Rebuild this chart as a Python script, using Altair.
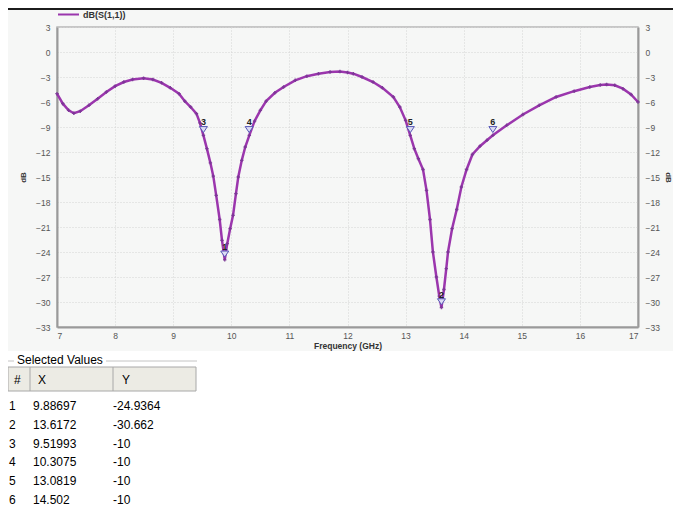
import altair as alt
import pandas as pd

# ---- data ----
freq_ghz = [7.00, 7.10, 7.20, 7.29, 7.40, 7.55, 7.70, 7.85, 8.00, 8.15,
            8.30, 8.49, 8.65, 8.80, 8.95, 9.10, 9.20, 9.30, 9.40, 9.46,
            9.52, 9.58, 9.64, 9.69, 9.74, 9.80, 9.84, 9.887, 9.93, 9.98,
            10.03, 10.08, 10.12, 10.18, 10.24, 10.31, 10.40, 10.50, 10.60, 10.75,
            10.90, 11.10, 11.30, 11.50, 11.70, 11.87, 12.00, 12.10, 12.25, 12.44,
            12.60, 12.79, 12.90, 13.00, 13.08, 13.15, 13.22, 13.30, 13.36, 13.42,
            13.47, 13.53, 13.58, 13.617, 13.66, 13.70, 13.73, 13.80, 13.88, 13.96,
            14.05, 14.15, 14.28, 14.40, 14.502, 14.74, 15.02, 15.30, 15.59, 15.90,
            16.17, 16.35, 16.46, 16.60, 16.74, 16.88, 17.00]
s11_db = [-5.0, -6.2, -7.0, -7.35, -7.1, -6.4, -5.6, -4.8, -4.1, -3.6,
          -3.3, -3.15, -3.3, -3.7, -4.3, -5.0, -5.9, -6.6, -7.4, -8.5,
          -10.0, -11.6, -13.3, -14.9, -17.2, -20.1, -22.6, -24.94, -23.0, -21.2,
          -19.6, -17.0, -15.0, -13.0, -11.4, -10.0, -8.3, -7.0, -5.9, -4.9,
          -4.2, -3.4, -2.9, -2.6, -2.4, -2.35, -2.45, -2.6, -3.0, -3.6,
          -4.3, -5.4, -6.6, -8.2, -10.0, -11.6, -12.8, -14.1, -16.6, -20.1,
          -24.0, -27.0, -29.3, -30.66, -28.5, -26.0, -24.0, -21.2, -18.9, -16.2,
          -14.1, -12.3, -11.3, -10.6, -10.0, -8.8, -7.5, -6.4, -5.4, -4.7,
          -4.2, -3.95, -3.9, -4.0, -4.4, -5.1, -6.0]
series_name = "dB(S(1,1))"

sel_id = ["1", "2", "3", "4", "5", "6"]
sel_x = ["9.88697", "13.6172", "9.51993", "10.3075", "13.0819", "14.502"]
sel_y = ["-24.9364", "-30.662", "-10", "-10", "-10", "-10"]

x_ticks = list(range(7, 18))
y_ticks = list(range(-33, 4, 3))

# ---- tables ----
curve = pd.DataFrame({"f": freq_ghz, "db": s11_db, "series": series_name})
marks = pd.DataFrame({"id": sel_id,
                      "mx": [float(v) for v in sel_x],
                      "my": [float(v) for v in sel_y]})
table = pd.DataFrame({"row": [int(v) for v in sel_id], "id": sel_id,
                      "xs": sel_x, "ys": sel_y})
one = pd.DataFrame({"k": [0]})

PURPLE = "#9b36ad"
FONT = "Liberation Sans"
PANEL = "#f6f7f6"

xs = alt.Scale(domain=[7, 17], nice=False, zero=False)
ys = alt.Scale(domain=[-33, 3], nice=False, zero=False)

lab = dict(labelFont=FONT, labelFontSize=8.5, labelColor="#555555",
           titleFont=FONT, titleFontWeight="bold", titleColor="#333333")

x_axis = alt.Axis(values=x_ticks, title="Frequency (GHz)", grid=True,
                  gridColor="#d4d4d4", gridDash=[1, 2], ticks=False,
                  labelPadding=4, titlePadding=2, titleFontSize=8.5,
                  domainColor="#9a9a9a", domainWidth=2, **lab)
left_axis = alt.Axis(orient="left", values=y_ticks, title="dB", grid=True,
                     gridColor="#d4d4d4", gridDash=[1, 2], ticks=False,
                     labelPadding=7, titlePadding=8, titleFontSize=8,
                     domainColor="#9a9a9a", domainWidth=2, **lab)
right_axis = alt.Axis(orient="right", values=y_ticks, title="dB", grid=False,
                      ticks=False, labelPadding=7, titlePadding=4,
                      titleFontSize=8, domainColor="#9a9a9a", domainWidth=2,
                      **lab)

X = alt.X("f:Q", scale=xs, axis=x_axis)

# decorations: white area under the plot panel, dark top edge
lower = alt.Chart(one).mark_rect(color="white").encode(
    x=alt.value(-49), x2=alt.value(616), y=alt.value(324), y2=alt.value(479))
topbar = alt.Chart(one).mark_rect(color="#1c1c1c").encode(
    x=alt.value(-49), x2=alt.value(616), y=alt.value(-19), y2=alt.value(-17))

legend = alt.Legend(title=None, orient="none", legendX=0, legendY=-24,
                    symbolType="stroke", symbolSize=441, symbolStrokeWidth=2,
                    labelFont=FONT, labelFontSize=9, labelFontWeight="bold",
                    labelColor="#333333", padding=0, labelOffset=3)

line = alt.Chart(curve).mark_line(strokeWidth=2.5).encode(
    x=X,
    y=alt.Y("db:Q", scale=ys, axis=left_axis),
    color=alt.Color("series:N", scale=alt.Scale(range=[PURPLE]), legend=legend),
)
pts = alt.Chart(curve).mark_point(shape="cross", filled=True, size=12,
                                  color="#7a3595", opacity=0.9).encode(
    x=X, y=alt.Y("db:Q", scale=ys, axis=right_axis))

tri_path = "M -0.8 -1.75 L 0.8 -1.75 L 0 -0.55 Z"
tri = alt.Chart(marks).mark_point(shape=tri_path, filled=True, size=100,
                                  fill="#dcdcf4", stroke="#5656b6",
                                  strokeWidth=1, opacity=1).encode(
    x=alt.X("mx:Q", scale=xs, axis=x_axis),
    y=alt.Y("my:Q", scale=ys, axis=None))
tri_lab = alt.Chart(marks).mark_text(dy=-13, font=FONT, fontSize=9,
                                     fontWeight="bold", color="#222222").encode(
    x=alt.X("mx:Q", scale=xs, axis=x_axis),
    y=alt.Y("my:Q", scale=ys, axis=None),
    text="id:N")

# ---- "Selected Values" table ----
row_y = alt.Y("row:Q", scale=alt.Scale(domain=[1, 6], range=[379, 473]), axis=None)
tfont = dict(font=FONT, fontSize=12, color="#000000", align="left", baseline="middle")

grp_label = alt.Chart(one).mark_text(text="Selected Values", **tfont).encode(
    x=alt.value(-40), y=alt.value(333))
grp_l1 = alt.Chart(one).mark_rule(color="#c4c4c4").encode(
    x=alt.value(-49), x2=alt.value(-43), y=alt.value(334))
grp_l2 = alt.Chart(one).mark_rule(color="#c4c4c4").encode(
    x=alt.value(49), x2=alt.value(140), y=alt.value(334))
hdr = alt.Chart(one).mark_rect(fill="#ecebe4", stroke="#a8a8a8", strokeWidth=1).encode(
    x=alt.value(-49), x2=alt.value(139), y=alt.value(340), y2=alt.value(364))
sep1 = alt.Chart(one).mark_rule(color="#a8a8a8").encode(
    x=alt.value(-27), y=alt.value(340), y2=alt.value(364))
sep2 = alt.Chart(one).mark_rule(color="#a8a8a8").encode(
    x=alt.value(56), y=alt.value(340), y2=alt.value(364))
h1 = alt.Chart(one).mark_text(text="#", **tfont).encode(x=alt.value(-43), y=alt.value(353))
h2 = alt.Chart(one).mark_text(text="X", **tfont).encode(x=alt.value(-19), y=alt.value(353))
h3 = alt.Chart(one).mark_text(text="Y", **tfont).encode(x=alt.value(65), y=alt.value(353))

c_id = alt.Chart(table).mark_text(**tfont).encode(x=alt.value(-48), y=row_y, text="id:N")
c_x = alt.Chart(table).mark_text(**tfont).encode(x=alt.value(-24), y=row_y, text="xs:N")
c_y = alt.Chart(table).mark_text(**tfont).encode(x=alt.value(56), y=row_y, text="ys:N")
tbl = alt.layer(c_id, c_x, c_y)

chart = alt.layer(
    lower, topbar, line, pts, tri, tri_lab,
    grp_label, grp_l1, grp_l2, hdr, sep1, sep2, h1, h2, h3, tbl,
).resolve_scale(y="independent").properties(
    width=581, height=300,
    autosize=alt.AutoSizeParams(type="none"),
    padding={"left": 49, "top": 19, "right": 35, "bottom": 179},
    background=PANEL,
).configure_view(stroke="#b8b8b8", strokeWidth=1.5)

chart.save("out.html", embed_options={"renderer": "svg", "actions": False})
